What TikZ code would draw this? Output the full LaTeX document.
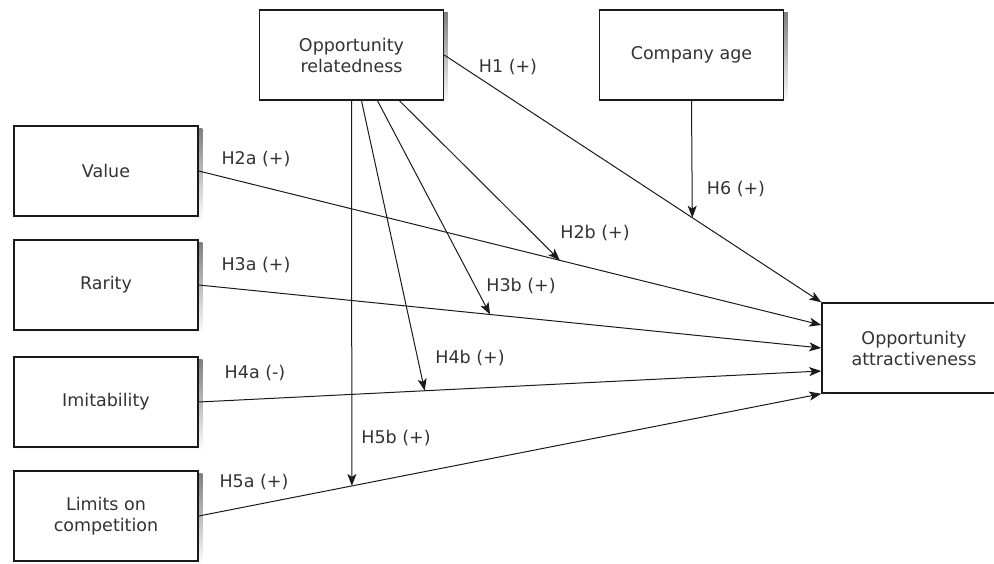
\documentclass[tikz,border=0pt]{standalone}
\usepackage{fontspec}
\setmainfont{DejaVu Sans}
\usetikzlibrary{arrows.meta,backgrounds}
\definecolor{txt}{HTML}{333333}
\definecolor{ln}{HTML}{1A1A1A}
\definecolor{shade}{HTML}{C4C4C4}
\begin{document}
\begin{tikzpicture}[x=1pt, y=-1pt,
    box/.style={draw=ln, line width=1.5pt, fill=white, minimum width=184pt, minimum height=90pt,
        align=center, text=txt, font=\fontsize{17.5}{21}\selectfont},
    hyp/.style={text=txt, font=\fontsize{17.5}{21}\selectfont},
    link/.style={ln, line width=1pt},
    effect/.style={link, -{Stealth[length=12pt, width=9pt, inset=3pt]}}]
    \useasboundingbox (0,0) rectangle (994,563);
    \clip (0,0) rectangle (994,563);

    % Draw boxes
    \node [box] (rel) at (351.5,55) {Opportunity\\relatedness};
    \node [box] (age) at (691.5,55) {Company age};
    \node [box] (val) at (106,171) {Value};
    \node [box] (rar) at (106,285) {Rarity};
    \node [box] (imi) at (106,402) {Imitability};
    \node [box] (lim) at (106,516) {Limits on\\competition};
    \node [box] (att) at (914,348) {Opportunity\\attractiveness};

    % Shadows
    \begin{scope}[on background layer]
        \foreach \n in {rel,age,val,rar,imi,lim,att}
            \fill [shade] ([shift={(3.5pt,-3.5pt)}]\n.north west) rectangle ([shift={(3.5pt,-3.5pt)}]\n.south east);
    \end{scope}

    % Direct effects
    \draw [effect] (rel.east) -- coordinate[pos=0.658] (m1) (att.north west);
    \draw [effect] (val.east) -- coordinate[pos=0.580] (m2) ([yshift=23pt]att.west);
    \draw [effect] (rar.east) -- coordinate[pos=0.468] (m3) (att.west);
    \draw [effect] (imi.east) -- coordinate[pos=0.363] (m4) ([yshift=-23pt]att.west);
    \draw [effect] (lim.east) -- coordinate[pos=0.246] (m5) (att.south west);

    % Moderating effects
    \draw [effect] (age.south) -- (m1);
    \draw [effect] ([xshift=48pt]rel.south) -- (m2);
    \draw [effect] ([xshift=26pt]rel.south) -- (m3);
    \draw [effect] ([xshift=10pt]rel.south) -- (m4);
    \draw [effect] (rel.south) -- (m5);

    % Labels
    \node [hyp] (h1) at (508,67) {H1 (+)};
    \node [hyp] (h6) at (736,189) {H6 (+)};
    \node [hyp] (h2a) at (256,159) {H2a (+)};
    \node [hyp] (h3a) at (256,265) {H3a (+)};
    \node [hyp] (h4a) at (255,373) {H4a (-)};
    \node [hyp] (h5a) at (254,482) {H5a (+)};
    \node [hyp] (h2b) at (595,233) {H2b (+)};
    \node [hyp] (h3b) at (521,286) {H3b (+)};
    \node [hyp] (h4b) at (470,358) {H4b (+)};
    \node [hyp] (h5b) at (396,438) {H5b (+)};
\end{tikzpicture}
\end{document}
